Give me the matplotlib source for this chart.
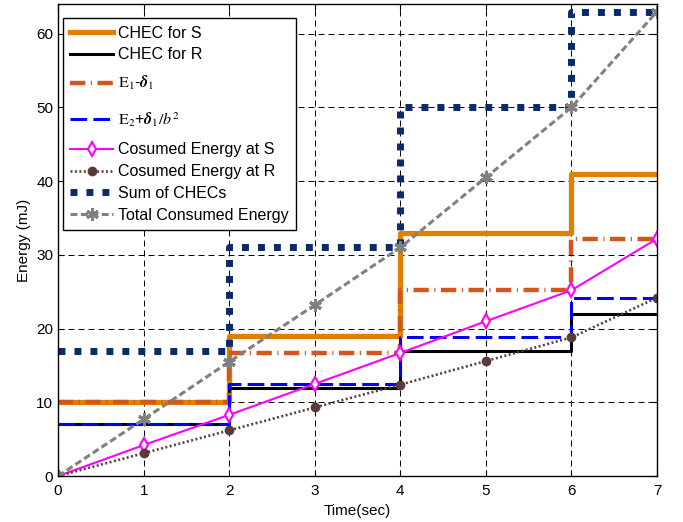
import matplotlib
matplotlib.use("Agg")
import matplotlib.pyplot as plt

plt.rcParams['font.family'] = ['Liberation Sans', 'DejaVu Sans']
plt.rcParams['mathtext.fontset'] = 'stix'
plt.rcParams['lines.scale_dashes'] = False

# ---- data ----
step_edges = [0, 2, 4, 6, 7]
chec_S = [10, 19, 33, 41]
chec_R = [7, 12, 17, 22]
e1_minus_d1 = [10, 16.7, 25.2, 32.2]
e2_plus_d1b2 = [7, 12.5, 18.9, 24.2]
sum_checs = [17, 31, 50, 63]

time = [0, 1, 2, 3, 4, 5, 6, 7]
consumed_S = [0, 4.2, 8.3, 12.5, 16.7, 21.0, 25.2, 32.2]
consumed_R = [0, 3.1, 6.2, 9.3, 12.4, 15.6, 18.8, 24.2]
total_consumed = [0, 7.7, 15.5, 23.2, 31.0, 40.5, 50.0, 63.0]

labels = ['CHEC for S', 'CHEC for R',
          r'$\mathrm{E}_1$-$\boldsymbol{\delta}_1$',
          r'$\mathrm{E}_2$+$\boldsymbol{\delta}_1/b^2$',
          'Cosumed Energy at S', 'Cosumed Energy at R',
          'Sum of CHECs', 'Total Consumed Energy']

def stepy(v):
    return list(v) + [v[-1]]

fig = plt.figure(figsize=(6.83, 5.22), dpi=100)
ax = fig.add_axes([0.085, 0.088, 0.877, 0.904])

ax.plot(step_edges, stepy(chec_S), drawstyle='steps-post', color='#E08000',
        lw=3.8, solid_joinstyle='round', label=labels[0])
ax.plot(step_edges, stepy(chec_R), drawstyle='steps-post', color='black',
        lw=2.2, label=labels[1])
ax.plot(step_edges, stepy(e1_minus_d1), drawstyle='steps-post', color='#D4561E',
        lw=3.2, dashes=(11, 4, 0.8, 4), dash_capstyle='butt', label=labels[2])
ax.plot(step_edges, stepy(e2_plus_d1b2), drawstyle='steps-post', color='#0000FF',
        lw=2.2, dashes=(12, 4.5), label=labels[3])
ax.plot(time, consumed_S, color='#FF00FF', lw=1.5, marker='d', markersize=7,
        markerfacecolor='white', markeredgecolor='#FF00FF', markeredgewidth=1.5,
        label=labels[4])
ax.plot(time, consumed_R, color='#5B3A3A', lw=1.9, dashes=(1.4, 1.8),
        marker='o', markersize=6, markerfacecolor='#5B3A3A',
        markeredgecolor='#5B3A3A', label=labels[5])
ax.plot(step_edges, stepy(sum_checs), drawstyle='steps-post', color='#0B2A6B',
        lw=5, dashes=(5, 6.5), dash_capstyle='butt', label=labels[6])
ax.plot(time, total_consumed, color='#808080', lw=2.2, dashes=(5, 2.5),
        marker=(6, 2, 0), markersize=9, markeredgewidth=2.2,
        markeredgecolor='#808080', label=labels[7])

ax.set_xlim(0, 7)
ax.set_ylim(0, 64)
ax.set_xticks(range(0, 8))
ax.set_yticks(range(0, 61, 10))
ax.tick_params(direction='in', top=True, right=True, labelsize=11, length=4)
ax.tick_params(axis='x', pad=6)
ax.grid(True, color='black', lw=0.7, dashes=(4.3, 2.9))
ax.set_axisbelow(True)
for s in ax.spines.values():
    s.set_linewidth(1.0)
ax.set_xlabel('Time(sec)', fontsize=11, labelpad=4)
ax.set_ylabel('Energy (mJ)', fontsize=11, labelpad=4)

leg = ax.legend(loc='upper left', bbox_to_anchor=(0.008, 0.970), borderaxespad=0,
                fontsize=11.5, handlelength=2.7, handletextpad=0.3,
                labelspacing=0.42, fancybox=False, framealpha=1,
                edgecolor='black', borderpad=0.45)
leg.get_frame().set_linewidth(1.0)

# make the two math rows taller, as in the reference (top, bottom extra in pt)
try:
    col = leg._legend_handle_box.get_children()[0]
    items = col.get_children()
    for idx, (t, b) in ((2, (5.8, 8.5)), (3, (5.0, 7.9))):
        da = items[idx].get_children()[0]
        da.height += t + b
        da.ydescent += b
        da.stale = True
except Exception:
    pass

fig.savefig('out.png', dpi=100)
